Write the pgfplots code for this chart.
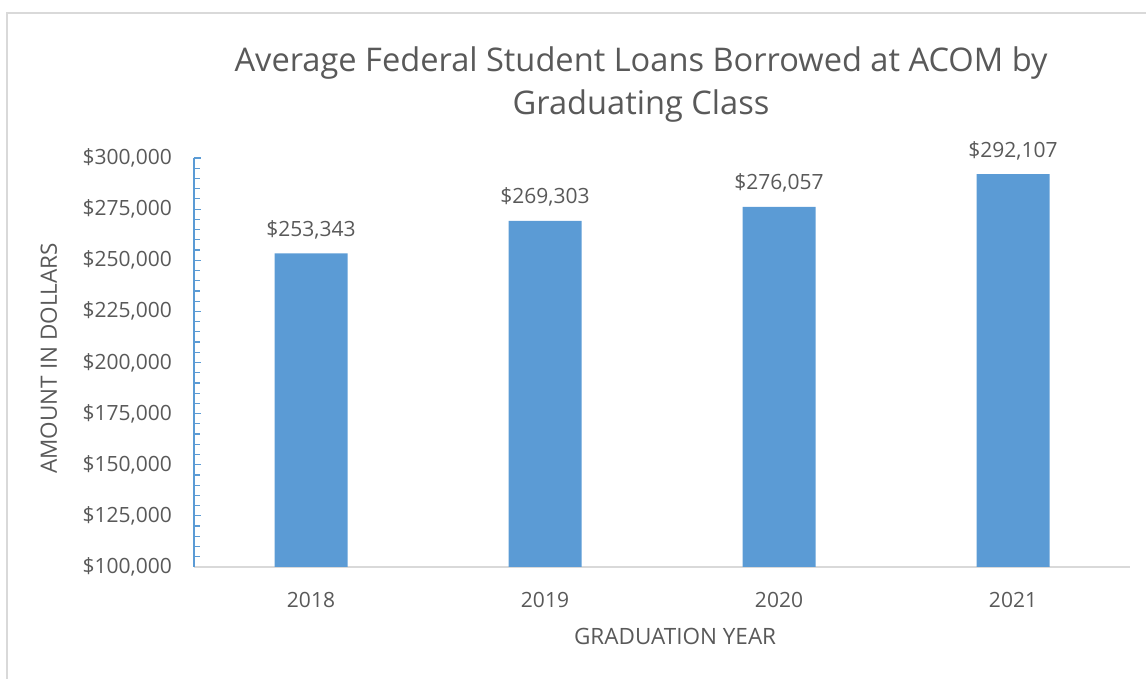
\documentclass[border=0pt]{standalone}
\usepackage{pgfplots}
\pgfplotsset{compat=1.18}
\usepackage{fontspec}
\setmainfont{Open Sans}
\definecolor{barblue}{HTML}{5B9BD5}
\definecolor{txtgray}{HTML}{595959}
\definecolor{linegray}{HTML}{D9D9D9}
\newcommand{\tickfont}{\fontsize{21}{26}\selectfont}
\begin{document}
\begin{tikzpicture}[x=1pt,y=1pt]
\useasboundingbox (0,0) rectangle (1146,679);
\draw[linegray, line width=1.5pt] (7,-2) -- (7,666) -- (1150,666);
\begin{axis}[
    at={(194pt,112pt)}, anchor=south west,
    scale only axis, width=936pt, height=409pt,
    ybar, bar width=73pt,
    xmin=-0.5, xmax=3.5, ymin=100000, ymax=300000,
    xtick={0,1,2,3}, xticklabels={2018,2019,2020,2021},
    ytick={100000,125000,...,300000},
    minor y tick num=4,
    scaled y ticks=false,
    /pgf/number format/assume math mode=true,
    axis lines*=left,
    x axis line style={linegray, line width=1.5pt},
    y axis line style={barblue, line width=1.5pt},
    tick align=inside,
    major tick length=7pt, minor tick length=6pt,
    ytick style={barblue, line width=1.2pt},
    minor y tick style={barblue, line width=1.2pt},
    xtick style={draw=none},
    yticklabel={\$\pgfmathprintnumber[fixed,precision=0,1000 sep={,}]{\tick}},
    yticklabel style={font=\tickfont, text=txtgray, anchor=east, inner sep=0pt, xshift=-22pt},
    xticklabel style={font=\tickfont, text=txtgray, anchor=center, inner sep=0pt, yshift=-33pt},
    nodes near coords={\$\pgfmathprintnumber[fixed,precision=0,1000 sep={,}]{\pgfplotspointmeta}},
    nodes near coords style={font=\tickfont, text=txtgray, anchor=base, inner sep=0pt, yshift=17pt},
    point meta=explicit,
    ylabel={AMOUNT IN DOLLARS},
    ylabel style={font=\fontsize{22.5}{28}\selectfont, text=txtgray, at={(axis description cs:-0.155,0.51)}, anchor=center, rotate=0},
    xlabel={GRADUATION YEAR},
    xlabel style={font=\fontsize{22.5}{28}\selectfont, text=txtgray, at={(axis description cs:0.514,-0.169)}, anchor=center},
    title={Average Federal Student Loans Borrowed at ACOM by\\Graduating Class},
    title style={font=\fontsize{32.6}{43}\selectfont, text=txtgray, align=center, at={(axis description cs:0.4776,1.166)}, anchor=center},
    clip=false,
]
\addplot[fill=barblue, draw=none] coordinates {
    (0,253343) [253343]
    (1,269303) [269303]
    (2,276057) [276057]
    (3,292107) [292107]
};
\end{axis}
\end{tikzpicture}
\end{document}
